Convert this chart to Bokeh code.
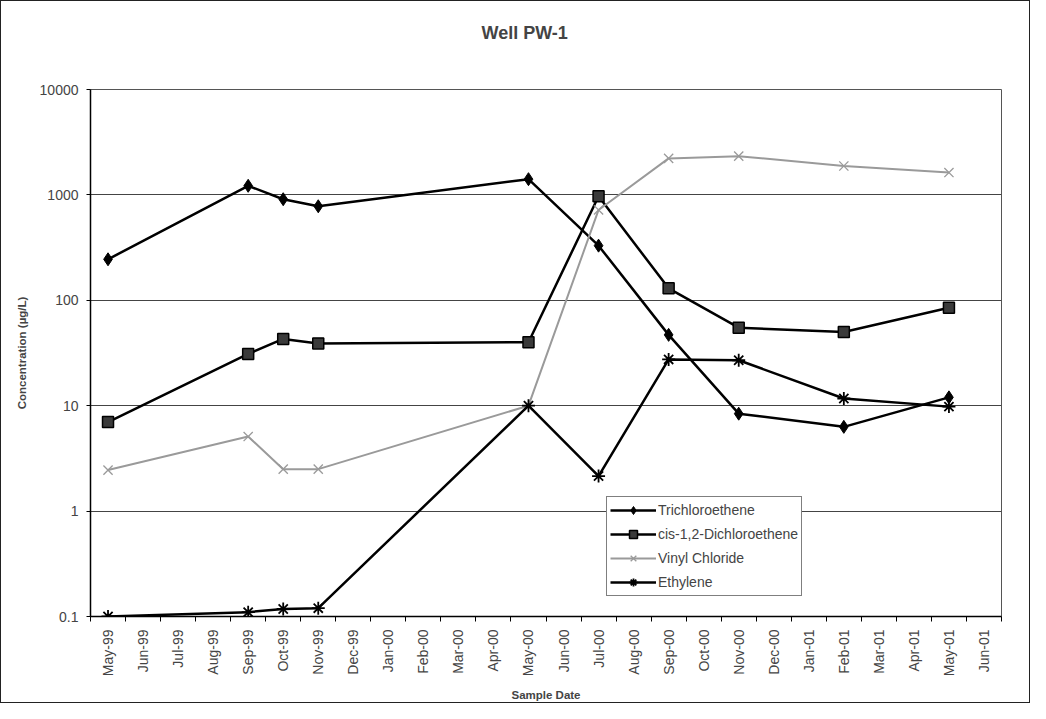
import math
from bokeh.plotting import figure
from bokeh.models import FixedTicker, CustomJSTickFormatter, Legend, LegendItem, ColumnDataSource
from bokeh.embed import file_html
from bokeh.resources import INLINE

# ---- data ----
month_labels = ["May-99", "Jun-99", "Jul-99", "Aug-99", "Sep-99", "Oct-99", "Nov-99", "Dec-99",
                "Jan-00", "Feb-00", "Mar-00", "Apr-00", "May-00", "Jun-00", "Jul-00", "Aug-00",
                "Sep-00", "Oct-00", "Nov-00", "Dec-00", "Jan-01", "Feb-01", "Mar-01", "Apr-01",
                "May-01", "Jun-01"]
sample_dates = ["May-99", "Sep-99", "Oct-99", "Nov-99", "May-00", "Jul-00", "Sep-00", "Nov-00", "Feb-01", "May-01"]
trichloroethene = [245, 1220, 910, 780, 1410, 330, 47, 8.4, 6.3, 12]
cis_dce = [7.0, 31, 43, 39, 40, 970, 130, 55, 50, 85]
vinyl_chloride = [2.45, 5.1, 2.5, 2.5, 10, 720, 2220, 2330, 1880, 1630]
ethylene = [0.1, 0.11, 0.118, 0.12, 10, 2.15, 27.5, 27, 11.7, 9.8]
y_ticks = [0.1, 1, 10, 100, 1000, 10000]
y_tick_labels = ["0.1", "1", "10", "100", "1000", "10000"]
title_text = "Well PW-1"

FONT = "Liberation Sans"
xpos = [month_labels.index(d) for d in sample_dates]

p = figure(width=1030, height=703, y_axis_type="log",
           x_range=(-0.5, len(month_labels) - 0.5), y_range=(y_ticks[0], y_ticks[-1]),
           output_backend="svg", toolbar_location=None,
           min_border_left=89, min_border_right=30, min_border_top=88, min_border_bottom=85)
p.styles = {"border": "1px solid #222"}

# title: a second (blank) line lifts the text towards the top of the border area
p.title.text = title_text + "\n "
p.title.align = "left"
p.title.offset = 391
p.title.vertical_align = "top"
p.title.text_line_height = 1.2
p.title.text_font = FONT
p.title.text_font_size = "18px"
p.title.text_font_style = "bold"
p.title.standoff = 42

p.outline_line_color = "#555"
p.outline_line_width = 1
p.xgrid.grid_line_color = None
p.ygrid.grid_line_color = "#444"
p.ygrid.grid_line_width = 1
p.ygrid.minor_grid_line_color = None

# x axis
xa = p.xaxis[0]
xa.ticker = FixedTicker(ticks=list(range(len(month_labels))),
                        minor_ticks=[i - 0.5 for i in range(len(month_labels) + 1)])
xa.formatter = CustomJSTickFormatter(args=dict(mlabs=month_labels),
                                     code="return mlabs[Math.round(tick)] || '';")
xa.major_label_orientation = math.pi / 2
xa.major_tick_out = 0
xa.major_tick_in = 0
xa.minor_tick_out = 5
xa.minor_tick_in = 0
xa.minor_tick_line_color = "black"
xa.major_label_standoff = 8
xa.major_label_text_font = FONT
xa.major_label_text_font_size = "14px"
xa.axis_line_color = "black"
xa.axis_line_width = 1.5
xa.axis_label = "Sample Date"
xa.axis_label_text_font = FONT
xa.axis_label_text_font_style = "bold"
xa.axis_label_text_font_size = "11.5px"
xa.axis_label_standoff = 10

# y axis
ya = p.yaxis[0]
ya.ticker = FixedTicker(ticks=y_ticks, minor_ticks=[])
ya.formatter = CustomJSTickFormatter(args=dict(yvals=y_ticks, ylabs=y_tick_labels), code="""
const i = yvals.findIndex(t => Math.abs(Math.log10(t) - Math.log10(tick)) < 1e-6);
return i >= 0 ? ylabs[i] : '';
""")
ya.major_tick_out = 4
ya.major_tick_in = 0
ya.minor_tick_out = 0
ya.minor_tick_in = 0
ya.major_label_standoff = 8
ya.major_label_text_font = FONT
ya.major_label_text_font_size = "14px"
ya.axis_line_color = "black"
ya.axis_line_width = 1.5
ya.axis_label = "Concentration (\u00b5g/L)"
ya.axis_label_text_font = FONT
ya.axis_label_text_font_style = "bold"
ya.axis_label_text_font_size = "11.5px"
ya.axis_label_standoff = 9

items = []

def series(vals, name, color, lw, marker, size, fill, mlw):
    src = ColumnDataSource(dict(x=xpos, y=vals))
    r1 = p.line("x", "y", source=src, line_color=color, line_width=lw)
    r2 = p.scatter("x", "y", source=src, marker=marker, size=size,
                   line_color=color, fill_color=fill, line_width=mlw)
    items.append(LegendItem(label=name, renderers=[r1, r2]))

series(trichloroethene, "Trichloroethene", "black", 2.5, "diamond", 13, "black", 1)
series(cis_dce, "cis-1,2-Dichloroethene", "black", 2.5, "square", 11, "#3a3a3a", 1.5)
series(vinyl_chloride, "Vinyl Chloride", "#9a9a9a", 2, "x", 13, None, 1.3)
series(ethylene, "Ethylene", "black", 2.5, "asterisk", 13, None, 1.8)

legend = Legend(items=items, location=(516, 20))
legend.label_text_font = FONT
legend.label_text_font_size = "14px"
legend.glyph_width = 46
legend.glyph_height = 20
legend.label_height = 20
legend.label_standoff = 2
legend.spacing = 4
legend.padding = 3
legend.margin = 0
legend.border_line_color = "black"
legend.border_line_width = 1
legend.background_fill_color = "white"
legend.background_fill_alpha = 1
p.add_layout(legend, "center")

open("out.html", "w").write(file_html(p, INLINE))
